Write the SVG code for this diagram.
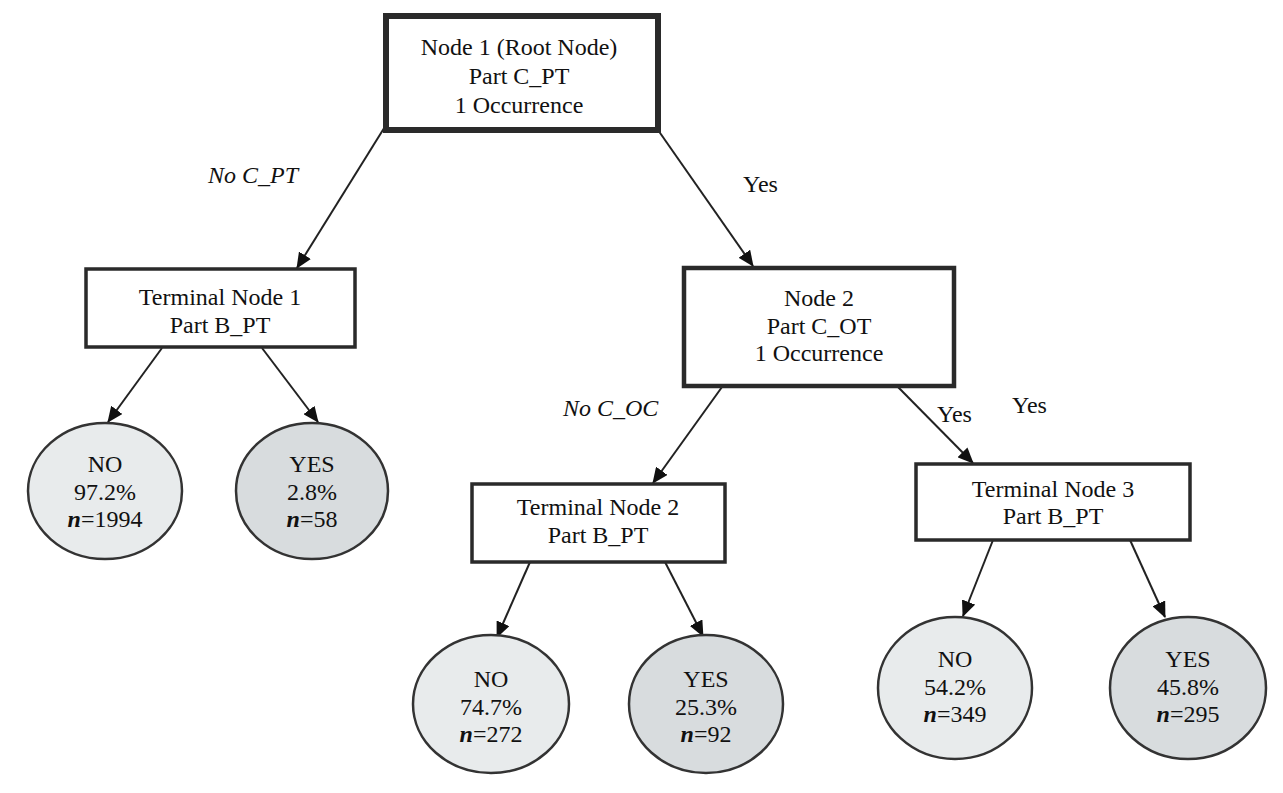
<svg xmlns="http://www.w3.org/2000/svg" width="1283" height="793" viewBox="0 0 1283 793" font-family="'Liberation Serif', 'DejaVu Serif', serif">
<style>
  text { font-family: 'Liberation Serif', 'DejaVu Serif', serif; font-size: 24px; fill: #111; }
  .c { text-anchor: middle; }
  .it { font-style: italic; }
  .box { fill: #fff; stroke: #2a2a2a; }
  .no { fill: #e8ebec; stroke: #333; stroke-width: 2.5; }
  .yes { fill: #d8dcde; stroke: #333; stroke-width: 2.5; }
  .edge { stroke: #222; stroke-width: 2; fill: none; marker-end: url(#ah); }
  .n { font-style: italic; font-weight: bold; }
</style>
<defs>
  <marker id="ah" markerUnits="userSpaceOnUse" markerWidth="16" markerHeight="14" viewBox="0 0 16 14" refX="15" refY="7" orient="auto">
    <path d="M0,0 L16,7 L0,14 Z" fill="#111"/>
  </marker>
</defs>
<rect width="1283" height="793" fill="#fff"/>

<g id="connectors">
  <line class="edge" x1="386" y1="125" x2="297" y2="268"/>
  <line class="edge" x1="658" y1="130" x2="753" y2="266"/>
  <line class="edge" x1="162" y1="348" x2="108" y2="422"/>
  <line class="edge" x1="262" y1="348" x2="318" y2="422"/>
  <line class="edge" x1="722" y1="387" x2="653" y2="483"/>
  <line class="edge" x1="898" y1="387" x2="973" y2="463"/>
  <line class="edge" x1="530" y1="562" x2="497" y2="637"/>
  <line class="edge" x1="665" y1="562" x2="703" y2="636"/>
  <line class="edge" x1="993" y1="540" x2="963" y2="616"/>
  <line class="edge" x1="1130" y1="540" x2="1165" y2="617"/>
  <text class="it" x="208" y="183">No C_PT</text>
  <text x="743" y="192">Yes</text>
  <text class="it" x="563" y="416">No C_OC</text>
  <text x="937" y="422">Yes</text>
  <text x="1012" y="413">Yes</text>
</g>

<g id="root">
  <rect class="box" x="386" y="16" width="272" height="114" stroke-width="6"/>
  <text class="c" x="519" y="55">Node 1 (Root Node)</text>
  <text class="c" x="519" y="84">Part C_PT</text>
  <text class="c" x="519" y="113">1 Occurrence</text>
</g>

<g id="terminal1">
  <rect class="box" x="86" y="269" width="269" height="78" stroke-width="3.5"/>
  <text class="c" x="220" y="305">Terminal Node 1</text>
  <text class="c" x="220" y="333">Part B_PT</text>
</g>

<g id="node2">
  <rect class="box" x="684" y="268" width="270" height="118" stroke-width="4.5"/>
  <text class="c" x="819" y="306">Node 2</text>
  <text class="c" x="819" y="334">Part C_OT</text>
  <text class="c" x="819" y="361">1 Occurrence</text>
</g>

<g id="terminal2">
  <rect class="box" x="472" y="484" width="253" height="78" stroke-width="3.5"/>
  <text class="c" x="598" y="515">Terminal Node 2</text>
  <text class="c" x="598" y="543">Part B_PT</text>
</g>

<g id="terminal3">
  <rect class="box" x="916" y="464" width="274" height="76" stroke-width="3.5"/>
  <text class="c" x="1053" y="497">Terminal Node 3</text>
  <text class="c" x="1053" y="524">Part B_PT</text>
</g>

<g id="leaf1-no">
  <ellipse class="no" cx="105" cy="491" rx="77" ry="68"/>
  <text class="c" x="105" y="472">NO</text>
  <text class="c" x="105" y="500">97.2%</text>
  <text class="c" x="105" y="527"><tspan class="n">n</tspan>=1994</text>
</g>

<g id="leaf1-yes">
  <ellipse class="yes" cx="312" cy="491" rx="76" ry="68"/>
  <text class="c" x="312" y="472">YES</text>
  <text class="c" x="312" y="500">2.8%</text>
  <text class="c" x="312" y="527"><tspan class="n">n</tspan>=58</text>
</g>

<g id="leaf2-no">
  <ellipse class="no" cx="491" cy="704" rx="78" ry="69"/>
  <text class="c" x="491" y="687">NO</text>
  <text class="c" x="491" y="715">74.7%</text>
  <text class="c" x="491" y="742"><tspan class="n">n</tspan>=272</text>
</g>

<g id="leaf2-yes">
  <ellipse class="yes" cx="706" cy="704" rx="77" ry="69"/>
  <text class="c" x="706" y="687">YES</text>
  <text class="c" x="706" y="715">25.3%</text>
  <text class="c" x="706" y="742"><tspan class="n">n</tspan>=92</text>
</g>

<g id="leaf3-no">
  <ellipse class="no" cx="955" cy="688" rx="77" ry="71"/>
  <text class="c" x="955" y="667">NO</text>
  <text class="c" x="955" y="695">54.2%</text>
  <text class="c" x="955" y="722"><tspan class="n">n</tspan>=349</text>
</g>

<g id="leaf3-yes">
  <ellipse class="yes" cx="1188" cy="688" rx="78" ry="71"/>
  <text class="c" x="1188" y="667">YES</text>
  <text class="c" x="1188" y="695">45.8%</text>
  <text class="c" x="1188" y="722"><tspan class="n">n</tspan>=295</text>
</g>
</svg>
